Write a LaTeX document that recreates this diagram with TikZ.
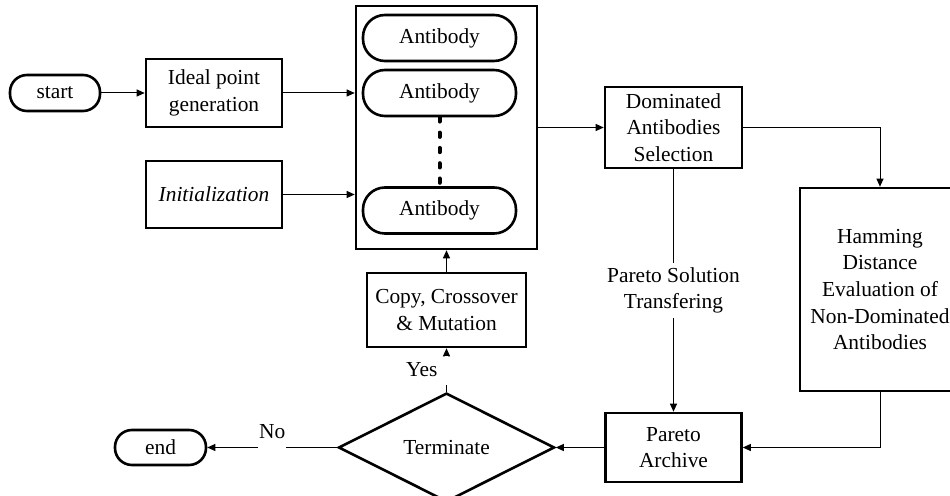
\documentclass[tikz,border=0pt]{standalone}
\usepackage{fontspec}
\setmainfont{Liberation Serif}
\usetikzlibrary{arrows.meta,shapes.geometric}
\begin{document}
\begin{tikzpicture}[x=0.5pt, y=-0.5pt, font=\fontsize{10.7}{13.3}\selectfont,
    box/.style={draw, line width=1.3pt, align=center, inner sep=1pt},
    pill/.style={box, rounded corners=8.5pt},
    conn/.style={line width=0.5pt, -{Triangle[length=4pt,width=3.5pt]}},
    gap/.style={fill=white, inner sep=0pt, align=center}]
    \useasboundingbox (0,0) rectangle (950,496);
    \clip (0,0) rectangle (950,496);
    \node[pill, minimum width=45pt, minimum height=18pt] (start) at (55,93) {start};
    \node[box, minimum width=68pt, minimum height=34pt] (ideal) at (214,93) {Ideal point\\generation};
    \node[box, minimum width=68pt, minimum height=33.5pt] (init) at (214,194.5) {\textit{Initialization}};
    \node[box, minimum width=90.5pt, minimum height=121.5pt] (pool) at (446.5,127.5) {};
    \node[pill, rounded corners=11pt, minimum width=76.5pt, minimum height=23pt] (ab1) at (439.5,38) {Antibody};
    \node[pill, rounded corners=11pt, minimum width=76.5pt, minimum height=23pt] (ab2) at (439.5,93) {Antibody};
    \node[pill, rounded corners=11pt, minimum width=76.5pt, minimum height=23pt] (ab3) at (439.5,210.5) {Antibody};
    \node[box, minimum width=68.5pt, minimum height=40.5pt] (dom) at (673.5,127.5) {Dominated\\Antibodies\\Selection};
    \node[box, minimum width=80pt, minimum height=101.5pt] (ham) at (880,289.5) {Hamming\\Distance\\Evaluation of\\Non-Dominated\\Antibodies};
    \node[box, minimum width=68pt, minimum height=34.5pt] (archive) at (673.5,447.5) {Pareto\\Archive};
    \node[box, diamond, minimum width=108pt, minimum height=45pt] (term) at (446.5,447.5) {Terminate};
    \node[box, minimum width=79.5pt, minimum height=37pt] (copy) at (446.5,310) {Copy, Crossover\\\& Mutation};
    \node[pill, minimum width=45.5pt, minimum height=17.5pt] (end) at (160.5,447.5) {end};

    \draw[line width=2pt, line cap=round, dash pattern=on 2.15pt off 5.5pt] (ab2.south) -- (ab3.north);
    \draw[conn] (start) -- (ideal);
    \draw[conn] (ideal.east) -- (ideal.east -| pool.west);
    \draw[conn] (init.east) -- (init.east -| pool.west);
    \draw[conn] (pool) -- (dom);
    \draw[conn] (dom.east) -| (ham.north);
    \draw[conn] (dom) -- node[gap, inner sep=2pt] {Pareto Solution\\Transfering} (archive);
    \draw[conn] (ham.south) |- (archive.east);
    \draw[conn] (archive) -- (term);
    \draw[conn] (term.west) -- node[gap, minimum width=14pt, minimum height=1.5pt, label=above:No] {} (end.east);
    \draw[conn] (term.north) -- node[gap, minimum width=1.5pt, minimum height=14.5pt, label=left:Yes] {} (copy.south);
    \draw[conn] (copy) -- (copy |- pool.south);
\end{tikzpicture}
\end{document}
